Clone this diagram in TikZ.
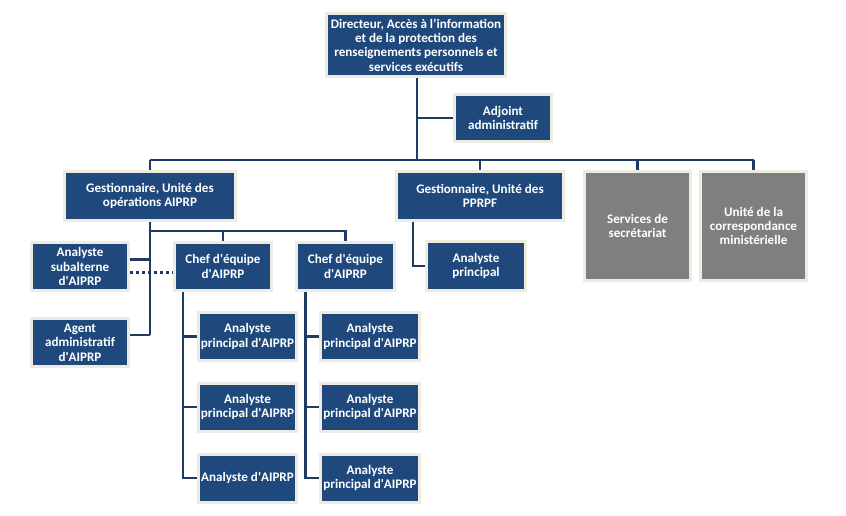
\documentclass[tikz,border=0pt]{standalone}
\usepackage{fontspec}
\setmainfont{Carlito}
\definecolor{boxblue}{HTML}{1F497D}
\definecolor{boxedge}{HTML}{EEECE1}
\definecolor{boxgray}{HTML}{7F7F7F}
\definecolor{linecol}{HTML}{1F3A63}
\newcommand{\ap}{\textquotesingle}
\begin{document}
\begin{tikzpicture}[x=1pt,y=-1pt,
  orgbox/.style={draw=boxedge, line width=3pt, fill=boxblue, text=white,
    font=\fontsize{13.1}{14.3}\selectfont\bfseries, align=center, inner sep=0pt},
  graybox/.style={orgbox, fill=boxgray},
  conn/.style={draw=linecol, line width=2.6pt},
  dotconn/.style={draw=linecol, line width=3pt, dash pattern=on 3pt off 3pt}]
\useasboundingbox (0,0) rectangle (846,515);

% nodes
\node[orgbox, minimum width=179pt, minimum height=63pt] (dir) at (416,45)
  {Directeur, Accès à l’information\\et de la protection des\\renseignements personnels et\\services exécutifs};
\node[orgbox, minimum width=97pt, minimum height=47pt] (adj) at (503,118) {Adjoint\\administratif};
\node[orgbox, minimum width=171pt, minimum height=49pt] (gA) at (150,196) {Gestionnaire, Unité des\\opérations AIPRP};
\node[orgbox, minimum width=167pt, minimum height=49pt] (gP) at (480,196) {Gestionnaire, Unité des\\PPRPF};
\node[graybox, minimum width=106pt, minimum height=109pt] (sec) at (637.5,226) {Services de\\secrétariat};
\node[graybox, minimum width=106pt, minimum height=109pt] (cor) at (753.5,226) {Unité de la\\correspondance\\ministérielle};
\node[orgbox, minimum width=99pt, minimum height=49pt] (anp) at (476,266) {Analyste\\principal};
\node[orgbox, minimum width=97pt, minimum height=48pt] (sub) at (80,266.5) {Analyste\\subalterne\\d\ap AIPRP};
\node[orgbox, minimum width=97pt, minimum height=48pt] (agt) at (80,342.5) {Agent\\administratif\\d\ap AIPRP};
\node[orgbox, minimum width=97pt, minimum height=48pt] (ch1) at (223,266.5) {Chef d\ap équipe\\d\ap AIPRP};
\node[orgbox, minimum width=98pt, minimum height=48pt] (ch2) at (345.5,266.5) {Chef d\ap équipe\\d\ap AIPRP};
\node[orgbox, minimum width=98pt, minimum height=48pt] (a1) at (247.5,336.5) {Analyste\\principal d\ap AIPRP};
\node[orgbox, minimum width=98pt, minimum height=48pt] (a2) at (247.5,407) {Analyste\\principal d\ap AIPRP};
\node[orgbox, minimum width=98pt, minimum height=48pt] (a3) at (247.5,478) {Analyste d\ap AIPRP};
\node[orgbox, minimum width=99pt, minimum height=48pt] (b1) at (370,336.5) {Analyste\\principal d\ap AIPRP};
\node[orgbox, minimum width=99pt, minimum height=48pt] (b2) at (370,407) {Analyste\\principal d\ap AIPRP};
\node[orgbox, minimum width=99pt, minimum height=48pt] (b3) at (370,478) {Analyste\\principal d\ap AIPRP};

% coordinates
\coordinate (dirbot) at (417,78);
\coordinate (barmid) at (417,160);
\coordinate (barL) at (150,160);
\coordinate (barR) at (753.5,160);
\coordinate (gAbot) at (150,222);
\coordinate (gAend) at (150,335);
\coordinate (chbar) at (150,231);
\coordinate (c1top) at (183,292);
\coordinate (c2top) at (305.5,292);
\coordinate (gPtop) at (413,222);

% connectors
\draw[conn] (dirbot) -- (barmid);
\draw[conn] (adj.west) -- (adj.west -| barmid);
\draw[conn] (barL) -- (barR);
\draw[conn] (barL) -- (gA.north);
\draw[conn] (gP.north |- barmid) -- (gP.north);
\draw[conn] (sec.north |- barmid) -- (sec.north);
\draw[conn] (barR) -- (cor.north);
\draw[conn] (gAbot) -- (gAend);
\draw[conn] ([yshift=7.5pt]agt.east) -- (gAend);
\draw[conn] ([yshift=7pt]sub.east) -- ([yshift=7pt]sub.east -| gAend);
\draw[dotconn] ([yshift=-5.5pt]sub.east) -- ([yshift=-5.5pt]ch1.west);
\draw[conn] (chbar) -| (ch1.north);
\draw[conn] (chbar) -| (ch2.north);
\draw[conn] (c1top) |- (a3.west);
\draw[conn] (a1.west -| c1top) -- (a1.west);
\draw[conn] (a2.west -| c1top) -- (a2.west);
\draw[conn] (c2top) |- (b3.west);
\draw[conn] (b1.west -| c2top) -- (b1.west);
\draw[conn] (b2.west -| c2top) -- (b2.west);
\draw[conn] (gPtop) |- (anp.west);
\end{tikzpicture}
\end{document}
